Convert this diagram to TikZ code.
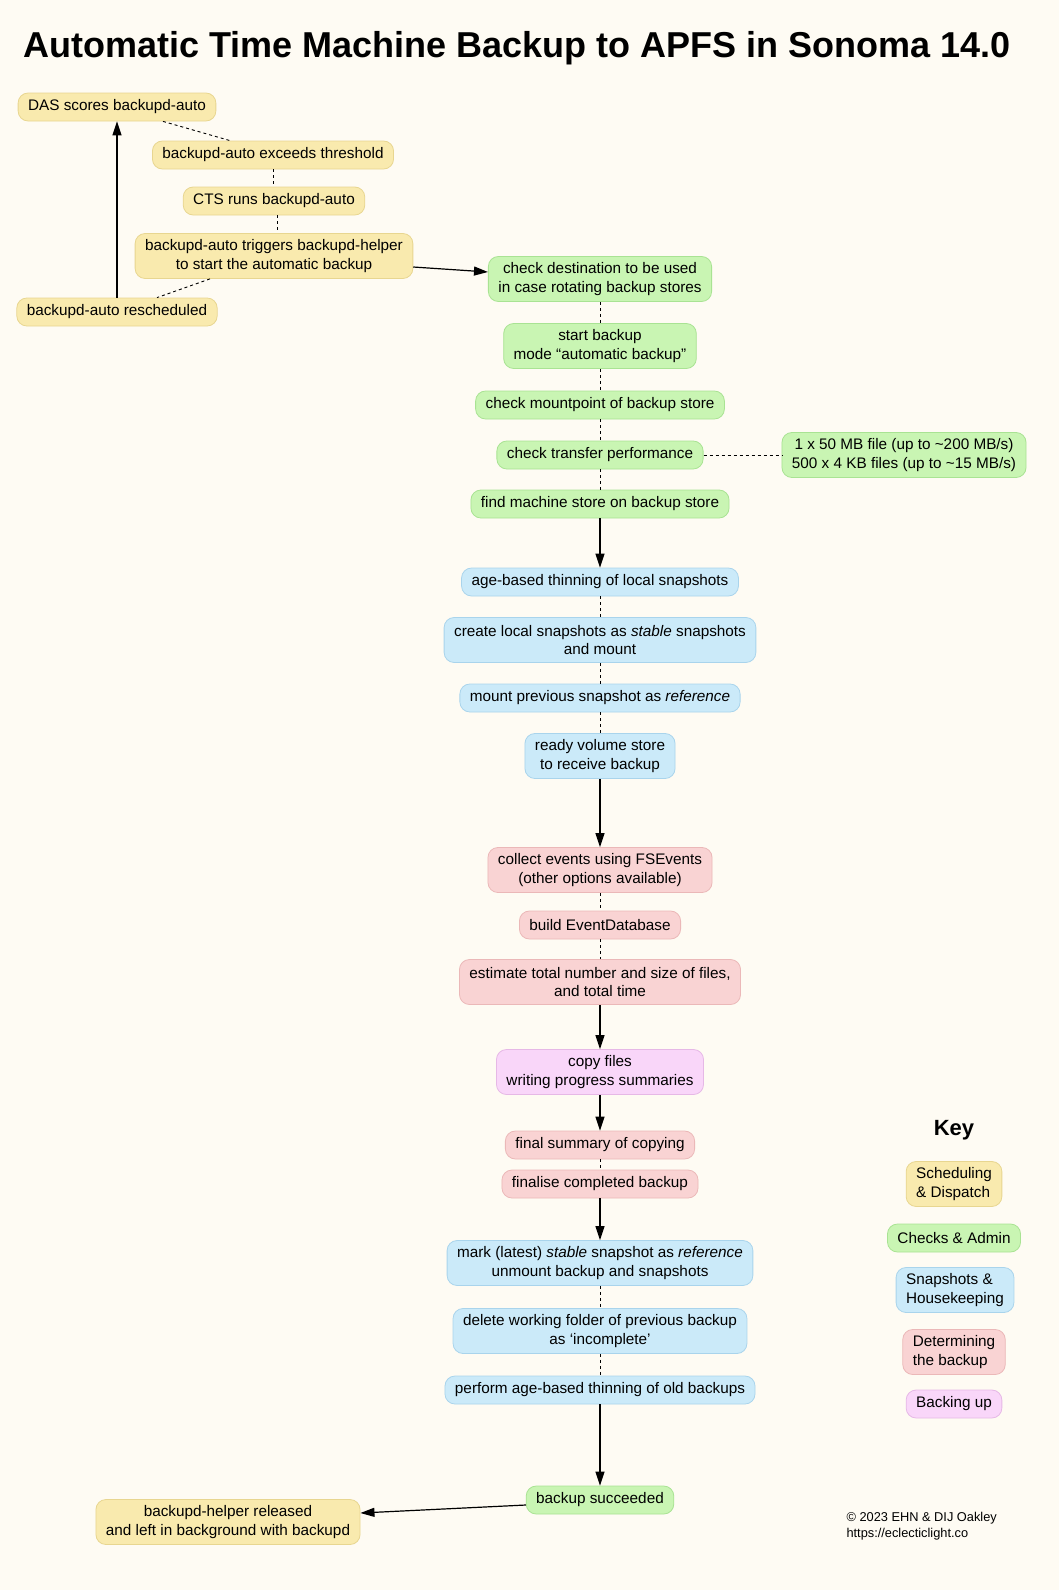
\documentclass[tikz,border=0pt]{standalone}
\usepackage{fontspec}
\setmainfont{Liberation Sans}
\usetikzlibrary{arrows.meta}
\definecolor{bg}{HTML}{FEFBF3}
\definecolor{yfill}{HTML}{F9EAAE}
\definecolor{yline}{HTML}{E8D690}
\definecolor{gfill}{HTML}{C9F5B3}
\definecolor{gline}{HTML}{A9E393}
\definecolor{bfill}{HTML}{CBEAF9}
\definecolor{bline}{HTML}{A9D4EC}
\definecolor{rfill}{HTML}{F9D3D3}
\definecolor{rline}{HTML}{EBB8B8}
\definecolor{pfill}{HTML}{F9D6F9}
\definecolor{pline}{HTML}{E6B8E6}
\begin{document}
\begin{tikzpicture}[x=1pt,y=-1pt,
  base/.style={rounded corners=10pt, line width=0.8pt, inner xsep=10pt, inner ysep=5pt,
    minimum height=28pt, align=center, font=\fontsize{15.3}{18.6}\selectfont},
  two/.style={minimum height=45pt},
  sched/.style={base, fill=yfill, draw=yline},
  chk/.style={base, fill=gfill, draw=gline},
  snap/.style={base, fill=bfill, draw=bline},
  det/.style={base, fill=rfill, draw=rline},
  bak/.style={base, fill=pfill, draw=pline},
  dashlink/.style={line width=0.9pt, dash pattern=on 3pt off 3pt},
  arr/.style={-{Triangle[length=14pt,width=9pt]}, line width=1.2pt}
]
\fill[bg] (0,0) rectangle (1059,1590);

\node[font=\bfseries\fontsize{36}{40}\selectfont] (title) at (517,48) {Automatic Time Machine Backup to APFS in Sonoma 14.0};

% scheduling
\node[sched] (das) at (117,107) {DAS scores backupd-auto};
\node[sched] (exc) at (273,155) {backupd-auto exceeds threshold};
\node[sched] (cts) at (274,201) {CTS runs backupd-auto};
\node[sched,two] (trig) at (274,256) {backupd-auto triggers backupd-helper\\to start the automatic backup};
\node[sched] (resch) at (117,312) {backupd-auto rescheduled};

% checks
\node[chk,two] (dest) at (600,279) {check destination to be used\\in case rotating backup stores};
\node[chk,two] (start) at (600,346) {start backup\\mode “automatic backup”};
\node[chk] (mount) at (600,405) {check mountpoint of backup store};
\node[chk] (xfer) at (600,455) {check transfer performance};
\node[chk,two] (note) at (904,455) {1 x 50 MB file (up to \textasciitilde200 MB/s)\\500 x 4 KB files (up to \textasciitilde15 MB/s)};
\node[chk] (find) at (600,504) {find machine store on backup store};

% snapshots
\node[snap] (thin) at (600,582) {age-based thinning of local snapshots};
\node[snap,two] (create) at (600,640) {create local snapshots as \textit{stable} snapshots\\and mount};
\node[snap] (prev) at (600,698) {mount previous snapshot as \textit{reference}};
\node[snap,two] (ready) at (600,756) {ready volume store\\to receive backup};

% determining
\node[det,two] (coll) at (600,870) {collect events using FSEvents\\(other options available)};
\node[det] (edb) at (600,925) {build EventDatabase};
\node[det,two] (est) at (600,982) {estimate total number and size of files,\\and total time};

% backing up
\node[bak,two] (copy) at (600,1072) {copy files\\writing progress summaries};

\node[det] (fsum) at (600,1145) {final summary of copying};
\node[det] (fin) at (600,1184) {finalise completed backup};

\node[snap,two] (mark) at (600,1263) {mark (latest) \textit{stable} snapshot as \textit{reference}\\unmount backup and snapshots};
\node[snap,two] (del) at (600,1331) {delete working folder of previous backup\\as ‘incomplete’};
\node[snap] (perf) at (600,1390) {perform age-based thinning of old backups};

\node[chk] (succ) at (600,1500) {backup succeeded};
\node[sched,two] (rel) at (228,1522) {backupd-helper released\\and left in background with backupd};

% key
\node[font=\bfseries\fontsize{22}{26}\selectfont] (key) at (954,1130) {Key};
\node[sched,two,align=left] (k1) at (954,1184) {Scheduling\\\& Dispatch};
\node[chk] (k2) at (954,1238) {Checks \& Admin};
\node[snap,two,align=left] (k3) at (955,1290) {Snapshots \&\\Housekeeping};
\node[det,two,align=left] (k4) at (954,1352) {Determining\\the backup};
\node[bak] (k5) at (954,1404) {Backing up};

\node[anchor=west, align=left, font=\fontsize{12.8}{15.5}\selectfont] (copyr) at (843,1526) {© 2023 EHN \& DIJ Oakley\\https://eclecticlight.co};

% connectors
\draw[dashlink] ([xshift=46pt]das.south) -- ([xshift=-43pt]exc.north);
\draw[dashlink] (exc.south) -- (exc.south |- cts.north);
\draw[dashlink] ([xshift=3pt]cts.south) -- ([xshift=3pt]cts.south |- trig.north);
\draw[dashlink] ([xshift=-64pt]trig.south) -- ([xshift=40pt]resch.north);
\draw[arr] (resch.north) -- (das.south);
\draw[arr] ([yshift=-11pt]trig.east) -- ([yshift=7pt]dest.west);

\draw[dashlink] (dest) -- (start);
\draw[dashlink] (start) -- (mount);
\draw[dashlink] (mount) -- (xfer);
\draw[dashlink] (xfer) -- (find);
\draw[dashlink] (xfer.east) -- (note.west);
\draw[arr] (find.south) -- (thin.north);

\draw[dashlink] (thin) -- (create);
\draw[dashlink] (create) -- (prev);
\draw[dashlink] (prev) -- (ready);
\draw[arr] (ready.south) -- (coll.north);

\draw[dashlink] (coll) -- (edb);
\draw[dashlink] (edb) -- (est);
\draw[arr] (est.south) -- (copy.north);
\draw[arr] (copy.south) -- (fsum.north);
\draw[dashlink] (fsum) -- (fin);
\draw[arr] (fin.south) -- (mark.north);

\draw[dashlink] (mark) -- (del);
\draw[dashlink] (del) -- (perf);
\draw[arr] (perf.south) -- (succ.north);
\draw[arr] ([yshift=-5pt]succ.west) -- ([yshift=9pt]rel.east);

\pgfresetboundingbox
\path[use as bounding box] (0,0) rectangle (1059,1590);
\end{tikzpicture}
\end{document}
